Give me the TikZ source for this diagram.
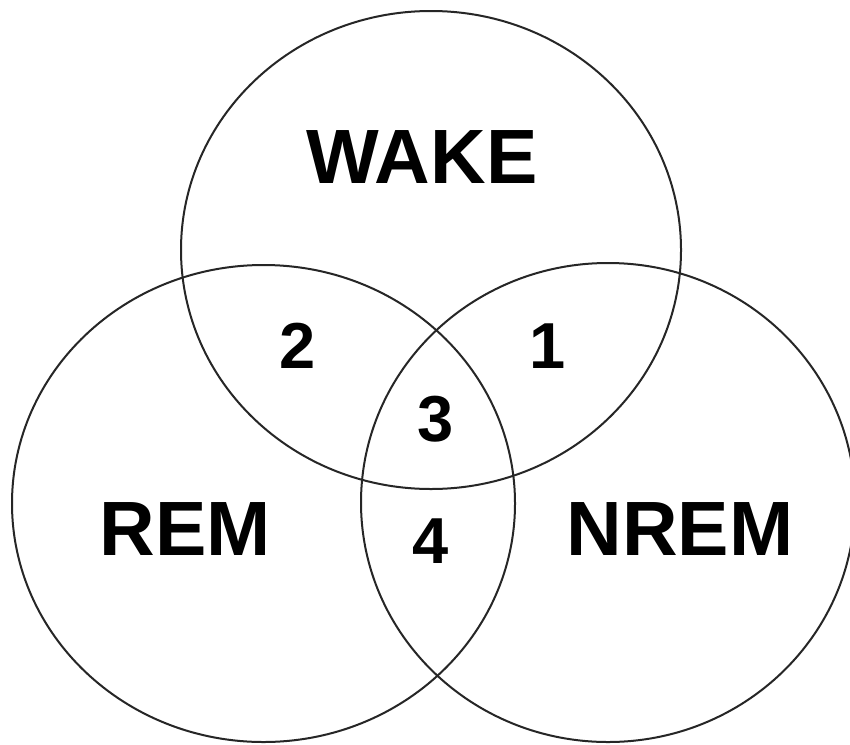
\documentclass[tikz,border=0pt]{standalone}
\usepackage{fontspec}
\setmainfont{Liberation Sans}
\begin{document}
\begin{tikzpicture}[x=1pt,y=-1pt,
  setline/.style={line width=2pt,draw=black!85},
  biglabel/.style={inner sep=0pt,anchor=base,font=\bfseries\fontsize{77}{77}\selectfont},
  numlabel/.style={inner sep=0pt,anchor=base,font=\bfseries\fontsize{65}{65}\selectfont}]
\useasboundingbox (0,0) rectangle (850,744);
\clip (0,0) rectangle (850,744);
\fill[white] (0,0) rectangle (850,744);
\draw[setline] (431,250) ellipse [x radius=250pt, y radius=239pt];
\draw[setline] (263.5,503.5) ellipse [x radius=251.5pt, y radius=238.5pt];
\draw[setline] (608,502.5) ellipse [x radius=247pt, y radius=239.5pt];
\node[biglabel] (wake) at (422,183) {WAKE};
\node[biglabel] (rem) at (185,555) {REM};
\node[biglabel] (nrem) at (680,555) {NREM};
\node[numlabel] (n2) at (297.5,368) {2};
\node[numlabel] (n1) at (548,368) {1};
\node[numlabel] (n3) at (436,441) {3};
\node[numlabel] (n4) at (431,563) {4};
\end{tikzpicture}
\end{document}
